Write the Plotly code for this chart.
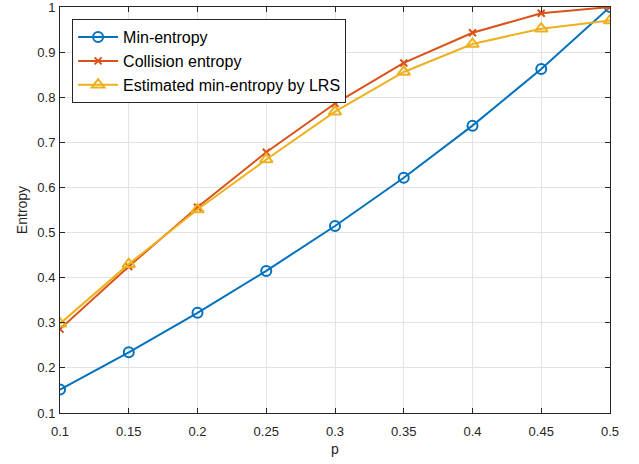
import plotly.graph_objects as go

p = [0.1, 0.15, 0.2, 0.25, 0.3, 0.35, 0.4, 0.45, 0.5]
min_entropy = [0.152, 0.2345, 0.322, 0.415, 0.5146, 0.6215, 0.737, 0.8625, 1.0]
collision_entropy = [0.286, 0.4248, 0.556, 0.678, 0.786, 0.876, 0.943, 0.986, 1.0]
lrs_estimate = [0.298, 0.430, 0.551, 0.662, 0.768, 0.856, 0.918, 0.952, 0.970]

x_ticks = [0.1, 0.15, 0.2, 0.25, 0.3, 0.35, 0.4, 0.45, 0.5]
x_labels = ["0.1", "0.15", "0.2", "0.25", "0.3", "0.35", "0.4", "0.45", "0.5"]
y_ticks = [0.1, 0.2, 0.3, 0.4, 0.5, 0.6, 0.7, 0.8, 0.9, 1.0]
y_labels = ["0.1", "0.2", "0.3", "0.4", "0.5", "0.6", "0.7", "0.8", "0.9", "1"]

FONT = "Liberation Sans, Arial"

fig = go.Figure()
fig.add_trace(go.Scatter(x=p, y=min_entropy, mode="lines+markers", name="Min-entropy",
                         line=dict(color="#0072BD", width=2),
                         marker=dict(symbol="circle-open", size=10, color="#0072BD", line=dict(width=2))))
fig.add_trace(go.Scatter(x=p, y=collision_entropy, mode="lines+markers", name="Collision entropy",
                         line=dict(color="#D95319", width=2),
                         marker=dict(symbol="x-thin-open", size=7, color="#D95319", line=dict(width=2, color="#D95319"))))
fig.add_trace(go.Scatter(x=p, y=lrs_estimate, mode="lines+markers", name="Estimated min-entropy by LRS",
                         line=dict(color="#EDB120", width=2),
                         marker=dict(symbol="triangle-up-open", size=11, color="#EDB120", line=dict(width=2))))

axis_common = dict(showline=True, linecolor="#262626", linewidth=1, mirror="ticks",
                   ticks="inside", ticklen=5, tickcolor="#262626",
                   showgrid=True, gridcolor="#e3e3e3", gridwidth=1, zeroline=False,
                   automargin=False, ticklabeloverflow="allow",
                   tickfont=dict(family=FONT, size=13, color="#262626"))

fig.update_xaxes(range=[0.1, 0.5], tickvals=x_ticks, ticktext=x_labels, ticklabelstandoff=6,
                 title=dict(text="p", font=dict(family=FONT, size=14, color="#262626"), standoff=6),
                 **axis_common)
fig.update_yaxes(range=[0.1, 1.0], tickvals=y_ticks, ticktext=y_labels, ticklabelstandoff=1,
                 title=dict(text="Entropy", font=dict(family=FONT, size=14, color="#262626"), standoff=6),
                 **axis_common)

fig.update_layout(
    width=639, height=464,
    margin=dict(l=60, r=29, t=7, b=51, pad=0),
    paper_bgcolor="white", plot_bgcolor="white",
    font=dict(family=FONT, color="#262626"),
    legend=dict(x=0.022, y=0.97, xanchor="left", yanchor="top",
                bgcolor="white", bordercolor="#262626", borderwidth=1,
                font=dict(family=FONT, size=16, color="#000000"),
                tracegroupgap=0, itemwidth=40),
    showlegend=True,
    hovermode=False,
)

fig.write_html("out.html", config={"displayModeBar": False},
               post_script="document.body.style.margin='0px';")
